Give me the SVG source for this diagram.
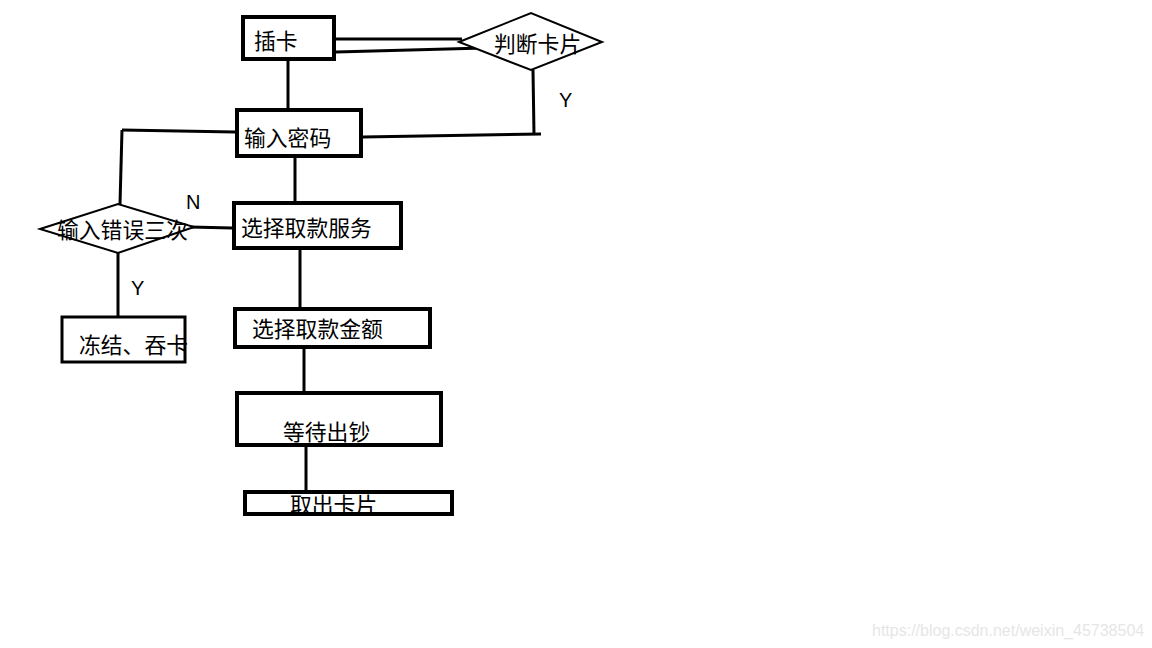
<svg xmlns="http://www.w3.org/2000/svg" width="1152" height="648" viewBox="0 0 1152 648">
<style>
.box{fill:#fff;stroke:#000;stroke-width:4}
.thin{fill:#fff;stroke:#000;stroke-width:3}
.dia{fill:#fff;stroke:#000;stroke-width:2}
.ln{fill:none;stroke:#000;stroke-width:3}
.t{font-family:"Noto Sans CJK SC","Liberation Sans",sans-serif;font-size:21.8px;fill:#000}
.l{font-family:"Liberation Sans",Arial,sans-serif;font-size:20px;fill:#000}
.wm{font-family:"Liberation Sans",Arial,sans-serif;font-size:16px;fill:#e6e6e6}
</style>
<rect width="1152" height="648" fill="#fff"/>
<g id="connectors">
<line class="ln" x1="336" y1="39" x2="462" y2="39"/>
<line class="ln" x1="336" y1="52" x2="484" y2="48"/>
<line class="ln" x1="288" y1="61" x2="288" y2="108"/>
<line class="ln" x1="533" y1="70" x2="534" y2="135"/>
<line class="ln" x1="363" y1="137" x2="541" y2="134"/>
<line class="ln" x1="122" y1="130" x2="235" y2="132"/>
<line class="ln" x1="122" y1="130" x2="120" y2="204"/>
<line class="ln" x1="295" y1="158" x2="295" y2="201"/>
<line class="ln" x1="190" y1="227" x2="232" y2="228"/>
<line class="ln" x1="300" y1="249" x2="300" y2="307"/>
<line class="ln" x1="118" y1="253" x2="118" y2="316"/>
<line class="ln" x1="304" y1="348" x2="304" y2="392"/>
<line class="ln" x1="306" y1="446" x2="306" y2="491"/>
</g>
<g id="n-insert"><rect class="box" x="243" y="17" width="91" height="42"/><text class="t" x="254" y="49">插卡</text></g>
<g id="n-judge"><polygon class="dia" points="459,42 531,13 602,42 531,70"/><text class="t" x="494" y="52">判断卡片</text></g>
<g id="n-pwd"><rect class="box" x="237" y="110" width="124" height="46"/><text class="t" x="244" y="146">输入密码</text></g>
<g id="n-err"><polygon class="dia" points="40,229 118,204 194,227 118,253"/><text class="t" x="57" y="238">输入错误三次</text></g>
<g id="n-svc"><rect class="box" x="234" y="203" width="167" height="45"/><text class="t" x="241" y="236">选择取款服务</text></g>
<g id="n-freeze"><rect class="thin" x="62" y="317" width="123" height="45"/><text class="t" x="79" y="353">冻结、吞卡</text></g>
<g id="n-amt"><rect class="box" x="235" y="309" width="195" height="38"/><text class="t" x="252" y="337">选择取款金额</text></g>
<g id="n-wait"><rect class="box" x="237" y="393" width="204" height="52"/><text class="t" x="283" y="440">等待出钞</text></g>
<g id="n-take"><rect class="box" x="245" y="492" width="207" height="22"/><text class="t" x="290" y="513">取出卡片</text></g>
<text class="l" x="559" y="107">Y</text>
<text class="l" x="186" y="209">N</text>
<text class="l" x="131" y="295">Y</text>
<text class="wm" x="872" y="636">https://blog.csdn.net/weixin_45738504</text>
</svg>
